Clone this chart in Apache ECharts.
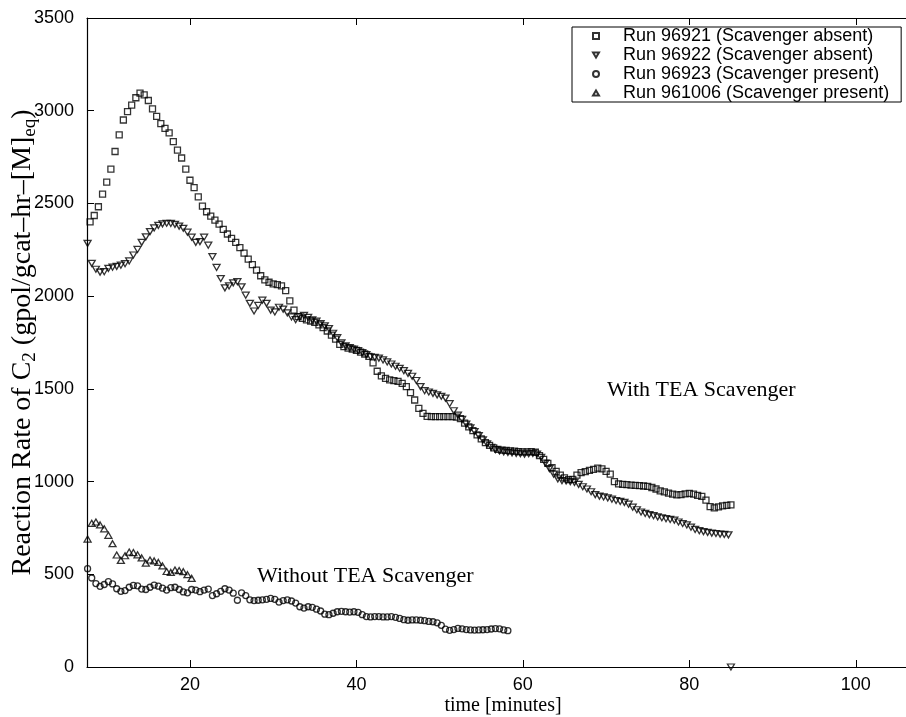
<!DOCTYPE html>
<html><head><meta charset="utf-8">
<script src="https://cdn.jsdelivr.net/npm/echarts@6/dist/echarts.min.js"></script>
<style>html,body{margin:0;padding:0;background:#fff}#c{width:906px;height:717px}</style>
</head><body><div id="c"></div>
<script>
// ---- tick values ----
const xTicks = [20, 40, 60, 80, 100];
const yTicks = [0, 500, 1000, 1500, 2000, 2500, 3000, 3500];

// ---- series names ----
const seriesNames = [
  'Run 96921 (Scavenger absent)',
  'Run 96922 (Scavenger absent)',
  'Run 96923 (Scavenger present)',
  'Run 961006 (Scavenger present)'
];

// ---- Run 96921 (squares): sampled every 0.5 min from 8.0 min ----
const run96921_t0 = 8.0, run96921_dt = 0.5;
const run96921_rate = [
2400,2435,2482,2550,2615,2685,2780,2870,2950,2995,3030,3070,3095,3085,3055,3010,2970,2930,2905,2880,
2833,2788,2745,2685,2625,2585,2535,2485,2455,2432,2410,2388,2360,2335,2312,2290,2262,2232,2200,2170,
2140,2110,2088,2075,2066,2062,2055,2030,1975,1925,1890,1880,1872,1866,1858,1845,1830,1812,1790,1768,
1740,1728,1720,1714,1708,1698,1688,1675,1640,1595,1570,1556,1548,1544,1540,1530,1512,1480,1440,1395,
1368,1352,1350,1350,1350,1350,1350,1350,1348,1340,1315,1295,1275,1252,1230,1210,1195,1182,1174,1170,
1168,1166,1164,1162,1160,1160,1162,1158,1140,1120,1098,1075,1055,1035,1020,1010,1012,1035,1048,1054,
1060,1066,1072,1068,1055,1040,1000,988,985,983,981,980,978,976,974,968,960,950,944,938,
932,928,930,934,936,932,926,920,900,865,858,864,869,872,874
];

// ---- Run 96922 (down triangles): sampled every 0.5 min from 7.7 min ----
const run96922_t0 = 7.7, run96922_dt = 0.5;
const run96922_rate = [
2285,2177,2145,2130,2132,2150,2156,2161,2167,2175,2190,2222,2252,2290,2320,2348,2368,2382,2390,2393,
2392,2387,2378,2366,2345,2318,2290,2294,2318,2275,2213,2155,2095,2045,2055,2072,2078,2050,2005,1961,
1920,1950,1978,1961,1925,1915,1940,1930,1910,1888,1873,1888,1896,1885,1872,1865,1852,1840,1825,1800,
1776,1748,1732,1722,1714,1706,1696,1685,1673,1670,1666,1656,1645,1634,1622,1611,1598,1584,1568,1545,
1512,1490,1483,1476,1468,1460,1450,1420,1382,1358,1335,1310,1290,1270,1248,1225,1203,1185,1172,1165,
1160,1157,1155,1152,1150,1148,1150,1152,1148,1130,1100,1070,1040,1015,1005,1003,1000,996,985,972,
960,945,930,922,917,912,905,898,893,888,878,862,848,836,828,822,816,810,805,800,
796,792,782,774,766,754,742,735,730,726,722,720,717,715,713
];
// isolated point of Run 96922 lying on the time axis
const run96922_extraT = [85];
const run96922_extraRate = [0];

// ---- Run 96923 (circles): sampled every 0.5 min from 7.7 min ----
const run96923_t0 = 7.7, run96923_dt = 0.5;
const run96923_rate = [
530,480,450,435,445,460,448,422,408,412,430,440,438,420,418,430,442,436,425,415,
428,430,418,405,400,418,415,406,415,420,385,395,408,422,415,398,360,400,385,362,
358,360,362,365,370,365,350,358,362,356,345,325,318,325,322,312,302,285,282,290,
298,300,298,296,298,295,282,272,270,272,272,270,270,272,268,262,255,252,254,254,
252,250,246,244,238,225,204,198,202,208,206,202,200,199,200,201,202,205,207,206,
200,196
];

// ---- Run 961006 (up triangles): sampled every 0.5 min from 7.7 min ----
const run961006_t0 = 7.7, run961006_dt = 0.5;
const run961006_rate = [
690,775,782,766,745,710,665,604,575,600,620,617,605,588,560,577,572,564,545,515,
510,523,520,514,498,478
];

function toPoints(t0, dt, vals) {
  return vals.map((v, i) => [Math.round((t0 + i * dt) * 100) / 100, v]);
}

const chart = echarts.init(document.getElementById('c'), null, {renderer: 'canvas'});

const markerStyle = {color: 'rgba(255,255,255,0)', borderColor: '#000', borderWidth: 1.3};
const downTri = 'path://M0,0L20,0L10,17.3Z';
const upTri = 'path://M10,0L20,17.3L0,17.3Z';

const serif = 'Liberation Serif';
const sans = 'Liberation Sans';

const axisCommon = {
  axisLine: {show: true, lineStyle: {color: '#000', width: 1.2}},
  splitLine: {show: false}
};

const option = {
  animation: false,
  backgroundColor: '#fff',
  textStyle: {fontFamily: sans, color: '#000'},
  grid: {left: 87, top: 18, width: 852, height: 649, containLabel: false, outerBoundsMode: 'none'},
  xAxis: [
    Object.assign({
      type: 'value', position: 'bottom', min: 7.63, max: 110,
      axisTick: {show: true, inside: true, length: 7, lineStyle: {color: '#000'}, customValues: xTicks},
      axisLabel: {show: true, color: '#000', fontFamily: sans, fontSize: 18, margin: 9, customValues: xTicks,
                  formatter: v => String(v)}
    }, axisCommon),
    Object.assign({
      type: 'value', position: 'top', min: 7.63, max: 110,
      axisTick: {show: true, inside: true, length: 7, lineStyle: {color: '#000'}, customValues: xTicks},
      axisLabel: {show: false, customValues: xTicks}
    }, axisCommon)
  ],
  yAxis: [
    Object.assign({
      type: 'value', min: 0, max: 3500, interval: 500,
      axisTick: {show: true, inside: true, length: 7, lineStyle: {color: '#000'}},
      axisLabel: {show: true, color: '#000', fontFamily: sans, fontSize: 18, margin: 13,
                  formatter: v => String(v)},
      name: '{a|Reaction Rate of C}{s|2}{a| (gpol/gcat\u2013hr\u2013[M]}{s|eq}{a|)}',
      nameLocation: 'middle', nameRotate: 90, nameGap: 47, nameMoveOverlap: false,
      nameTextStyle: {
        fontFamily: serif, fontSize: 28, color: '#000',
        rich: {
          a: {fontFamily: serif, fontSize: 28, color: '#000'},
          s: {fontFamily: serif, fontSize: 19, color: '#000', padding: [15, 0, 0, 0]}
        }
      }
    }, axisCommon)
  ],
  legend: {
    orient: 'vertical', left: 572, top: 27,
    padding: [0, 12, 0, 20], itemGap: 1,
    itemWidth: 6, itemHeight: 6,
    backgroundColor: '#fff', borderColor: '#000', borderWidth: 1,
    textStyle: {fontFamily: sans, fontSize: 18, color: '#000', lineHeight: 18, padding: [0, 0, 0, 19]},
    data: seriesNames
  },
  graphic: [
    {type: 'text', x: 607, y: 390, silent: true,
     style: {text: 'With TEA Scavenger', fontFamily: serif, fontSize: 22, fill: '#000', align: 'left', verticalAlign: 'middle'}},
    {type: 'text', x: 257, y: 576, silent: true,
     style: {text: 'Without TEA Scavenger', fontFamily: serif, fontSize: 22, fill: '#000', align: 'left', verticalAlign: 'middle'}},
    {type: 'text', x: 503, y: 706, silent: true,
     style: {text: 'time [minutes]', fontFamily: serif, fontSize: 20, fill: '#000', align: 'center', verticalAlign: 'middle'}}
  ],
  series: [
    {name: seriesNames[0], type: 'scatter', symbol: 'rect', symbolSize: 6, clip: false,
     itemStyle: markerStyle, emphasis: {disabled: true},
     data: toPoints(run96921_t0, run96921_dt, run96921_rate)},
    {name: seriesNames[1], type: 'scatter', symbol: downTri, symbolSize: [7, 6], clip: false,
     itemStyle: markerStyle, emphasis: {disabled: true},
     data: toPoints(run96922_t0, run96922_dt, run96922_rate).concat(
       run96922_extraT.map((t, i) => [t, run96922_extraRate[i]]))},
    {name: seriesNames[2], type: 'scatter', symbol: 'circle', symbolSize: 6, clip: false,
     itemStyle: markerStyle, emphasis: {disabled: true},
     data: toPoints(run96923_t0, run96923_dt, run96923_rate)},
    {name: seriesNames[3], type: 'scatter', symbol: upTri, symbolSize: [7, 6], clip: false,
     itemStyle: markerStyle, emphasis: {disabled: true},
     data: toPoints(run961006_t0, run961006_dt, run961006_rate)}
  ]
};
chart.setOption(option);
</script>
</body></html>
